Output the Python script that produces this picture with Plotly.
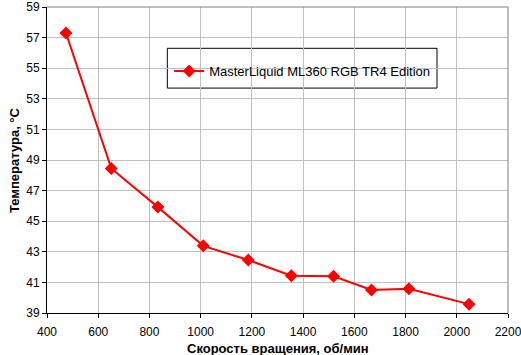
import plotly.graph_objects as go

speed_rpm = [474, 651, 833, 1010, 1186, 1354, 1519, 1667, 1813, 2048]
temp_c = [57.3, 48.45, 45.92, 43.39, 42.46, 41.44, 41.40, 40.51, 40.58, 39.58]
series_name = "MasterLiquid ML360 RGB TR4 Edition"
x_title = "Скорость вращения, об/мин"
y_title = "Температура, °C"
x_ticks = [400, 600, 800, 1000, 1200, 1400, 1600, 1800, 2000, 2200]
y_ticks = [39, 41, 43, 45, 47, 49, 51, 53, 55, 57, 59]

fig = go.Figure()
fig.add_trace(go.Scatter(
    x=speed_rpm, y=temp_c, name=series_name, mode="lines+markers",
    line=dict(color="#ff0000", width=2),
    marker=dict(symbol="diamond", size=10, color="#ff0000"),
))

font = dict(family="Arial, Liberation Sans, sans-serif", size=12, color="black")
font13 = dict(family="Arial, Liberation Sans, sans-serif", size=13, color="black")
fig.update_layout(
    width=521, height=355,
    margin=dict(l=47, r=13, t=7, b=42, autoexpand=False),
    paper_bgcolor="white", plot_bgcolor="white",
    font=font,
    showlegend=True,
    legend=dict(x=0.265, y=0.84, xanchor="left", yanchor="top",
                bgcolor="rgba(0,0,0,0)", borderwidth=0, font=font13),
    shapes=[dict(type="rect", xref="paper", yref="paper",
                 x0=0.261, x1=0.846, y0=0.735, y1=0.865,
                 line=dict(color="black", width=1), fillcolor="white", layer="below")],
    annotations=[
        dict(text="<b>" + x_title + "</b>", xref="paper", yref="paper",
             x=0.5, y=0, yshift=-35, xanchor="center", yanchor="middle",
             showarrow=False, font=font13),
        dict(text="<b>" + y_title + "</b>", xref="paper", yref="paper",
             x=0, xshift=-33, y=0.5, xanchor="center", yanchor="middle",
             textangle=-90, showarrow=False, font=font13),
    ],
)
fig.update_xaxes(
    range=[400, 2200], tickvals=x_ticks, ticks="outside", ticklen=4,
    tickcolor="black", showline=True, linecolor="black", automargin=False,
    showgrid=True, gridcolor="#c0c0c0", gridwidth=1, zeroline=False,
    ticklabelstandoff=4, ticklabeloverflow="allow",
)
fig.update_yaxes(
    range=[39, 59], tickvals=y_ticks, ticks="outside", ticklen=4,
    tickcolor="black", showline=True, linecolor="black", automargin=False,
    showgrid=True, gridcolor="#c0c0c0", gridwidth=1, zeroline=False,
    ticklabeloverflow="allow",
)
fig.add_shape(type="line", xref="paper", yref="paper", x0=1, x1=1, y0=0, y1=1,
              line=dict(color="#808080", width=1))
fig.add_shape(type="line", xref="paper", yref="paper", x0=0, x1=1, y0=1, y1=1,
              line=dict(color="#808080", width=1))

fig.write_html("out.html", post_script="document.body.style.margin='0';",
               config={"displayModeBar": False})
